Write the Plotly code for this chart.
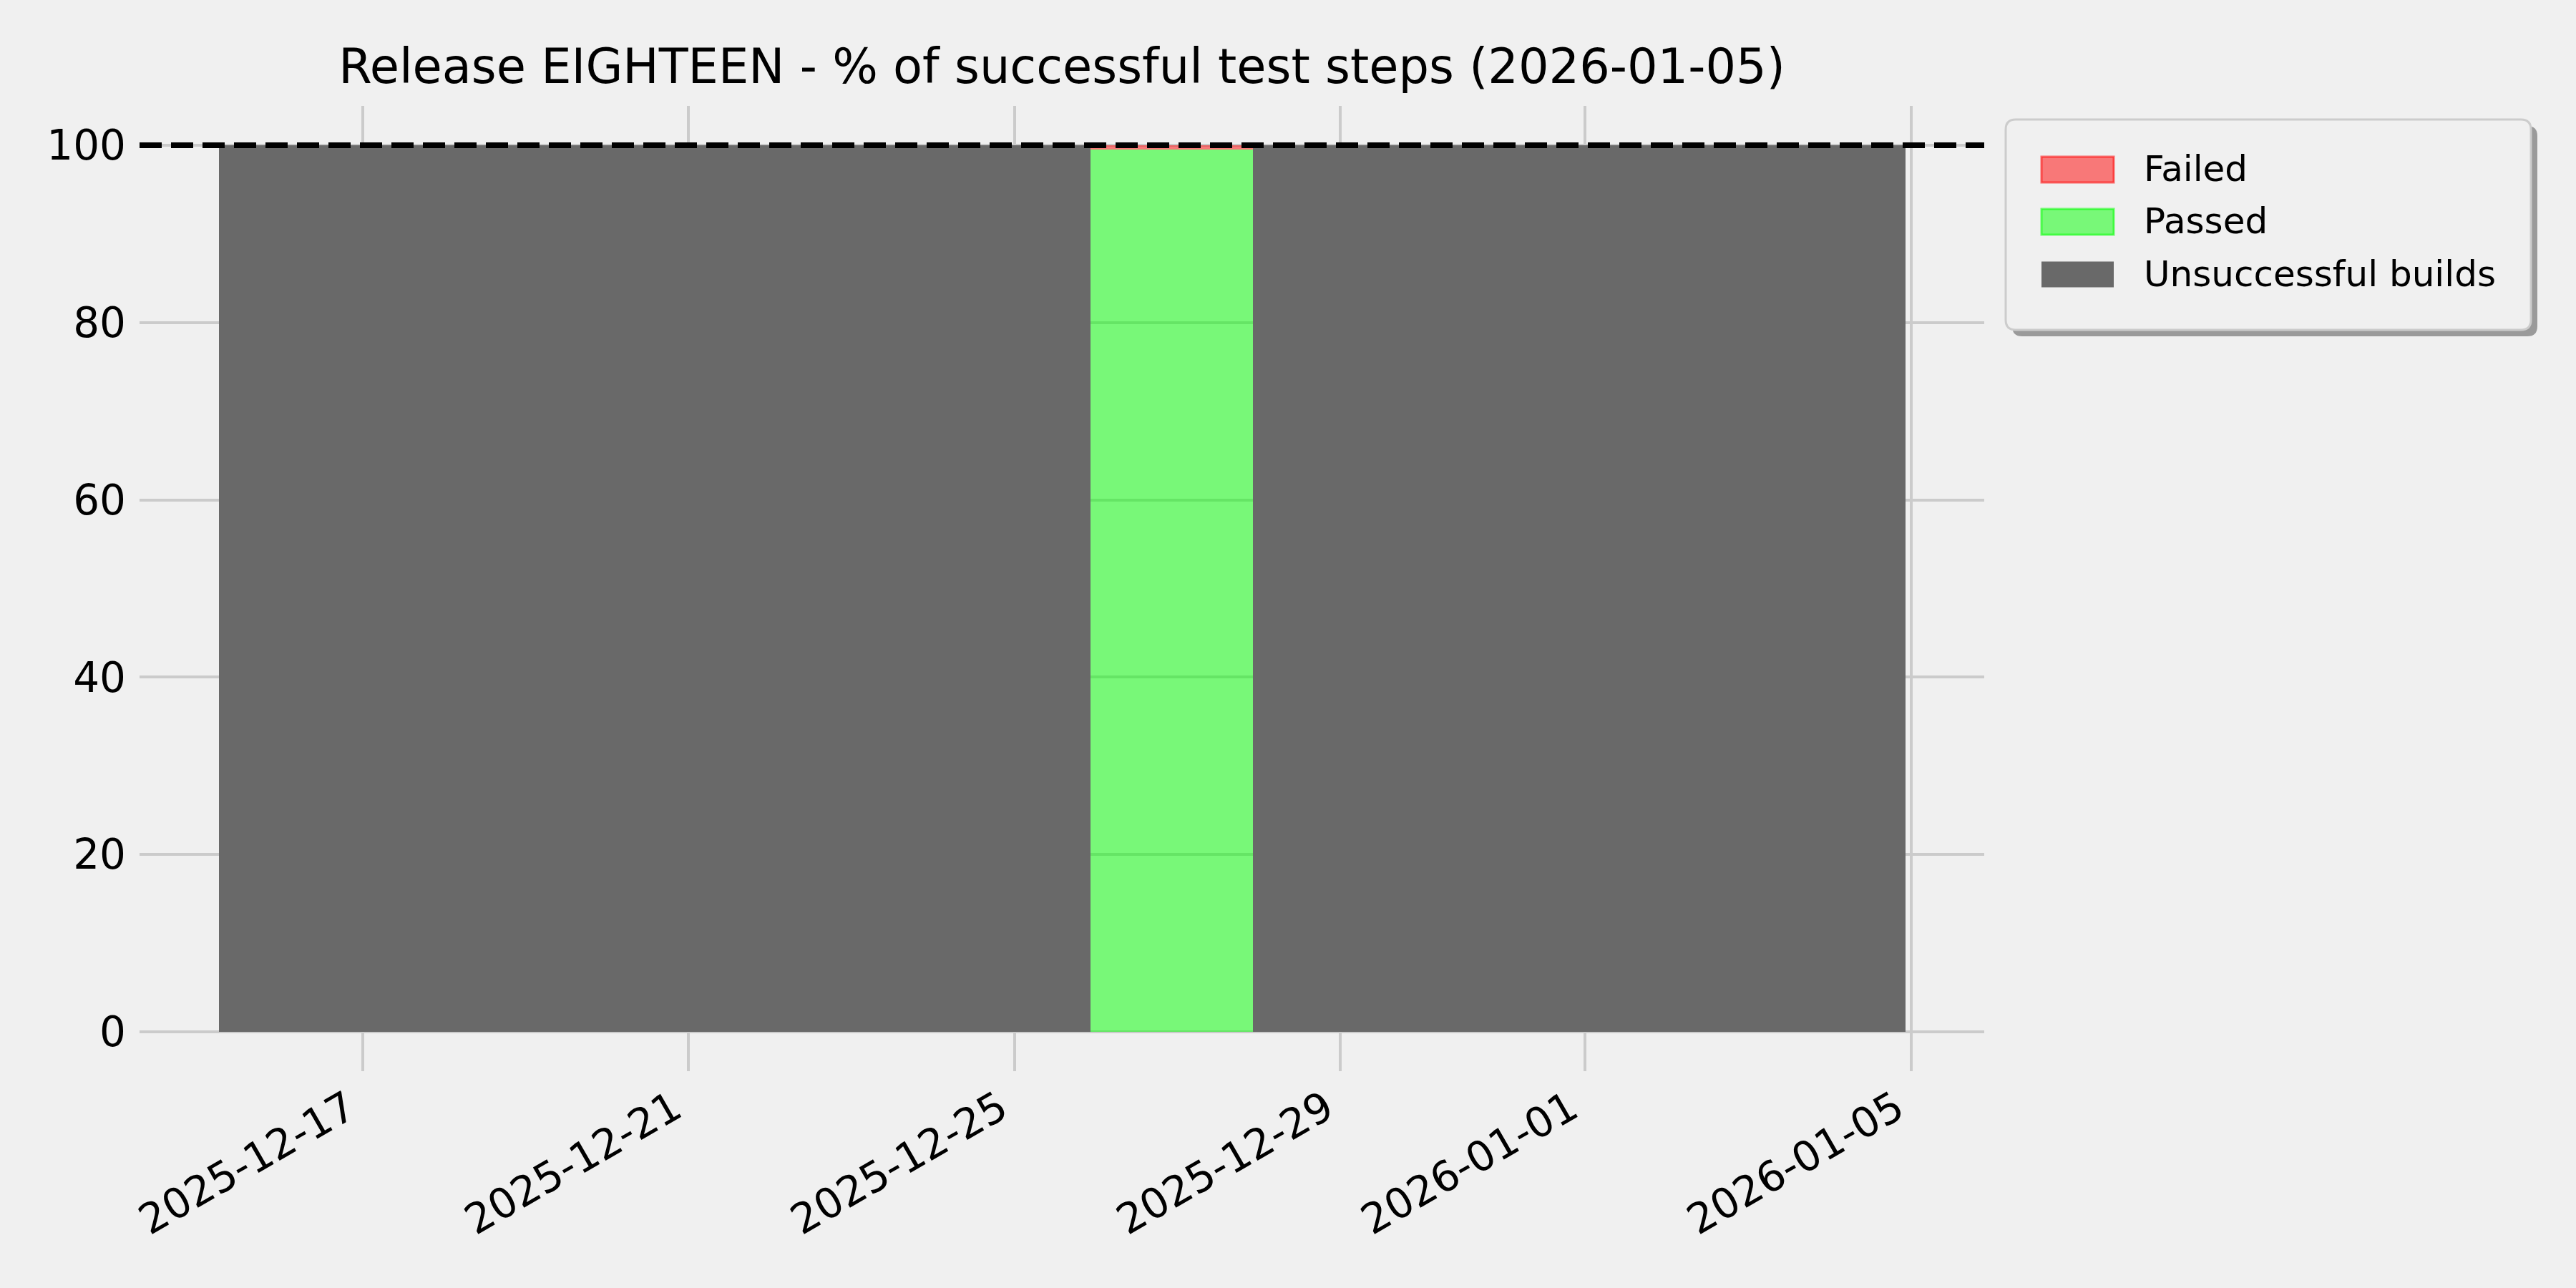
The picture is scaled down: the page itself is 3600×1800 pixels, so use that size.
import plotly.graph_objects as go

# ---------------- data ----------------
build_times = [
    "2025-12-15 17:44", "2025-12-16 10:19", "2025-12-17 10:19", "2025-12-18 10:19",
    "2025-12-19 10:19", "2025-12-20 10:19", "2025-12-21 10:19", "2025-12-22 10:19",
    "2025-12-23 10:19", "2025-12-24 10:19", "2025-12-25 10:19", "2025-12-26 10:19",
    "2025-12-27 10:19", "2025-12-28 10:19", "2025-12-29 10:19", "2025-12-30 10:19",
    "2025-12-31 10:19", "2026-01-01 10:19", "2026-01-02 10:19", "2026-01-03 10:19",
    "2026-01-04 10:19",
]
passed_pct = [0, 0, 0, 0, 0, 0, 0, 0, 0, 0, 0, 99.5, 99.5, 0, 0, 0, 0, 0, 0, 0, 0]
failed_pct = [0, 0, 0, 0, 0, 0, 0, 0, 0, 0, 0, 0.5, 0.5, 0, 0, 0, 0, 0, 0, 0, 0]
unsuccessful_pct = [100, 100, 100, 100, 100, 100, 100, 100, 100, 100, 100, 0, 0,
                    100, 100, 100, 100, 100, 100, 100, 100]
series_names = ["Failed", "Passed", "Unsuccessful builds"]
x_tick_dates = ["2025-12-17", "2025-12-21", "2025-12-25", "2025-12-29", "2026-01-01", "2026-01-05"]
y_ticks = [0, 20, 40, 60, 80, 100]
target_pct = 100
title_text = "Release EIGHTEEN - % of successful test steps (2026-01-05)"

# ---------------- style ----------------
W, H = 3600, 1800
L, R, T, B = 195, 2773, 148, 1497   # plot area in px
BG = "#f0f0f0"
GRID = "#cbcbcb"
FONT = "DejaVu Sans"
DAY_MS = 86400000

fill_colors = {"Failed": "rgba(255,0,0,0.5)", "Passed": "rgba(0,255,0,0.5)",
               "Unsuccessful builds": "#696969"}
edge_colors = {"Failed": "rgba(255,0,0,0.55)", "Passed": "rgba(0,255,0,0.55)",
               "Unsuccessful builds": "#696969"}


def px_x(p):
    return (p - L) / (R - L)


def px_y(p):
    return (B - p) / (B - T)


fig = go.Figure()
for name, vals in [("Passed", passed_pct), ("Failed", failed_pct),
                   ("Unsuccessful builds", unsuccessful_pct)]:
    fig.add_trace(go.Bar(
        x=build_times, y=vals, name=name, width=DAY_MS,
        marker=dict(color=fill_colors[name], line=dict(width=0)),
        showlegend=False,
    ))

# dashed target line
fig.add_shape(type="line", xref="paper", x0=0, x1=1, yref="y", y0=target_pct, y1=target_pct,
              line=dict(color="black", width=8, dash="31px,13px"), layer="above")

# ---------------- custom legend ----------------
bx0, bx1, by0, by1 = 2803, 3537, 167, 461
rad = 14


def rounded_path(x0, y0, x1, y1, r):
    rx = r / (R - L)
    ry = r / (B - T)
    X0, X1 = px_x(x0), px_x(x1)
    Y0, Y1 = px_y(y0), px_y(y1)   # Y0 top, Y1 bottom
    return (f"M{X0 + rx},{Y0} L{X1 - rx},{Y0} Q{X1},{Y0} {X1},{Y0 - ry} "
            f"L{X1},{Y1 + ry} Q{X1},{Y1} {X1 - rx},{Y1} L{X0 + rx},{Y1} "
            f"Q{X0},{Y1} {X0},{Y1 + ry} L{X0},{Y0 - ry} Q{X0},{Y0} {X0 + rx},{Y0} Z")


fig.add_shape(type="path", xref="paper", yref="paper",
              path=rounded_path(bx0 + 9, by0 + 9, bx1 + 9, by1 + 9, rad),
              fillcolor="#9a9a9a", line=dict(width=0), layer="above")
fig.add_shape(type="path", xref="paper", yref="paper",
              path=rounded_path(bx0, by0, bx1, by1, rad),
              fillcolor=BG, line=dict(color="#cccccc", width=3), layer="above")

patch_x0, patch_x1 = 2853, 2954
row_centers = [237, 310, 383.5]
patch_h = 36
for name, cy in zip(series_names, row_centers):
    lw = 0 if name == "Unsuccessful builds" else 3
    fig.add_shape(type="rect", xref="paper", yref="paper",
                  x0=px_x(patch_x0), x1=px_x(patch_x1),
                  y0=px_y(cy - patch_h / 2), y1=px_y(cy + patch_h / 2),
                  fillcolor=fill_colors[name],
                  line=dict(color=edge_colors[name], width=lw), layer="above")
    fig.add_annotation(xref="paper", yref="paper", x=px_x(2994), y=px_y(cy - 1),
                       xanchor="left", yanchor="middle", showarrow=False,
                       text=name, font=dict(family=FONT, size=50, color="black"))

fig.update_layout(
    width=W, height=H,
    margin=dict(l=L, r=W - R, t=T, b=H - B, pad=0),
    paper_bgcolor=BG, plot_bgcolor=BG,
    barmode="stack", bargap=0,
    font=dict(family=FONT, color="black"),
    title=dict(text=title_text, x=0.5, xref="paper", xanchor="center",
               y=1 - 93 / H, yref="container", yanchor="middle",
               font=dict(family=FONT, size=67, color="black")),
    showlegend=False,
)
fig.update_xaxes(
    type="date",
    range=["2025-12-14 06:20", "2026-01-05 21:36"],
    tickmode="array", tickvals=x_tick_dates, tickformat="%Y-%m-%d",
    tickangle=-30, tickfont=dict(family=FONT, size=58, color="black"),
    showgrid=True, gridcolor=GRID, gridwidth=4,
    zeroline=False, showline=False, ticks="",
    ticklabelstandoff=6, ticklabelshift=-20,
)
fig.update_yaxes(
    range=[-4.46, 104.44],
    tickmode="array", tickvals=y_ticks,
    tickfont=dict(family=FONT, size=58, color="black"),
    showgrid=True, gridcolor=GRID, gridwidth=4,
    zeroline=False, showline=False, ticks="",
    ticklabelstandoff=18,
)

fig.write_html(
    "out.html",
    config={"displayModeBar": False},
    post_script="document.body.style.margin='0';document.body.style.background='#f0f0f0';",
)
